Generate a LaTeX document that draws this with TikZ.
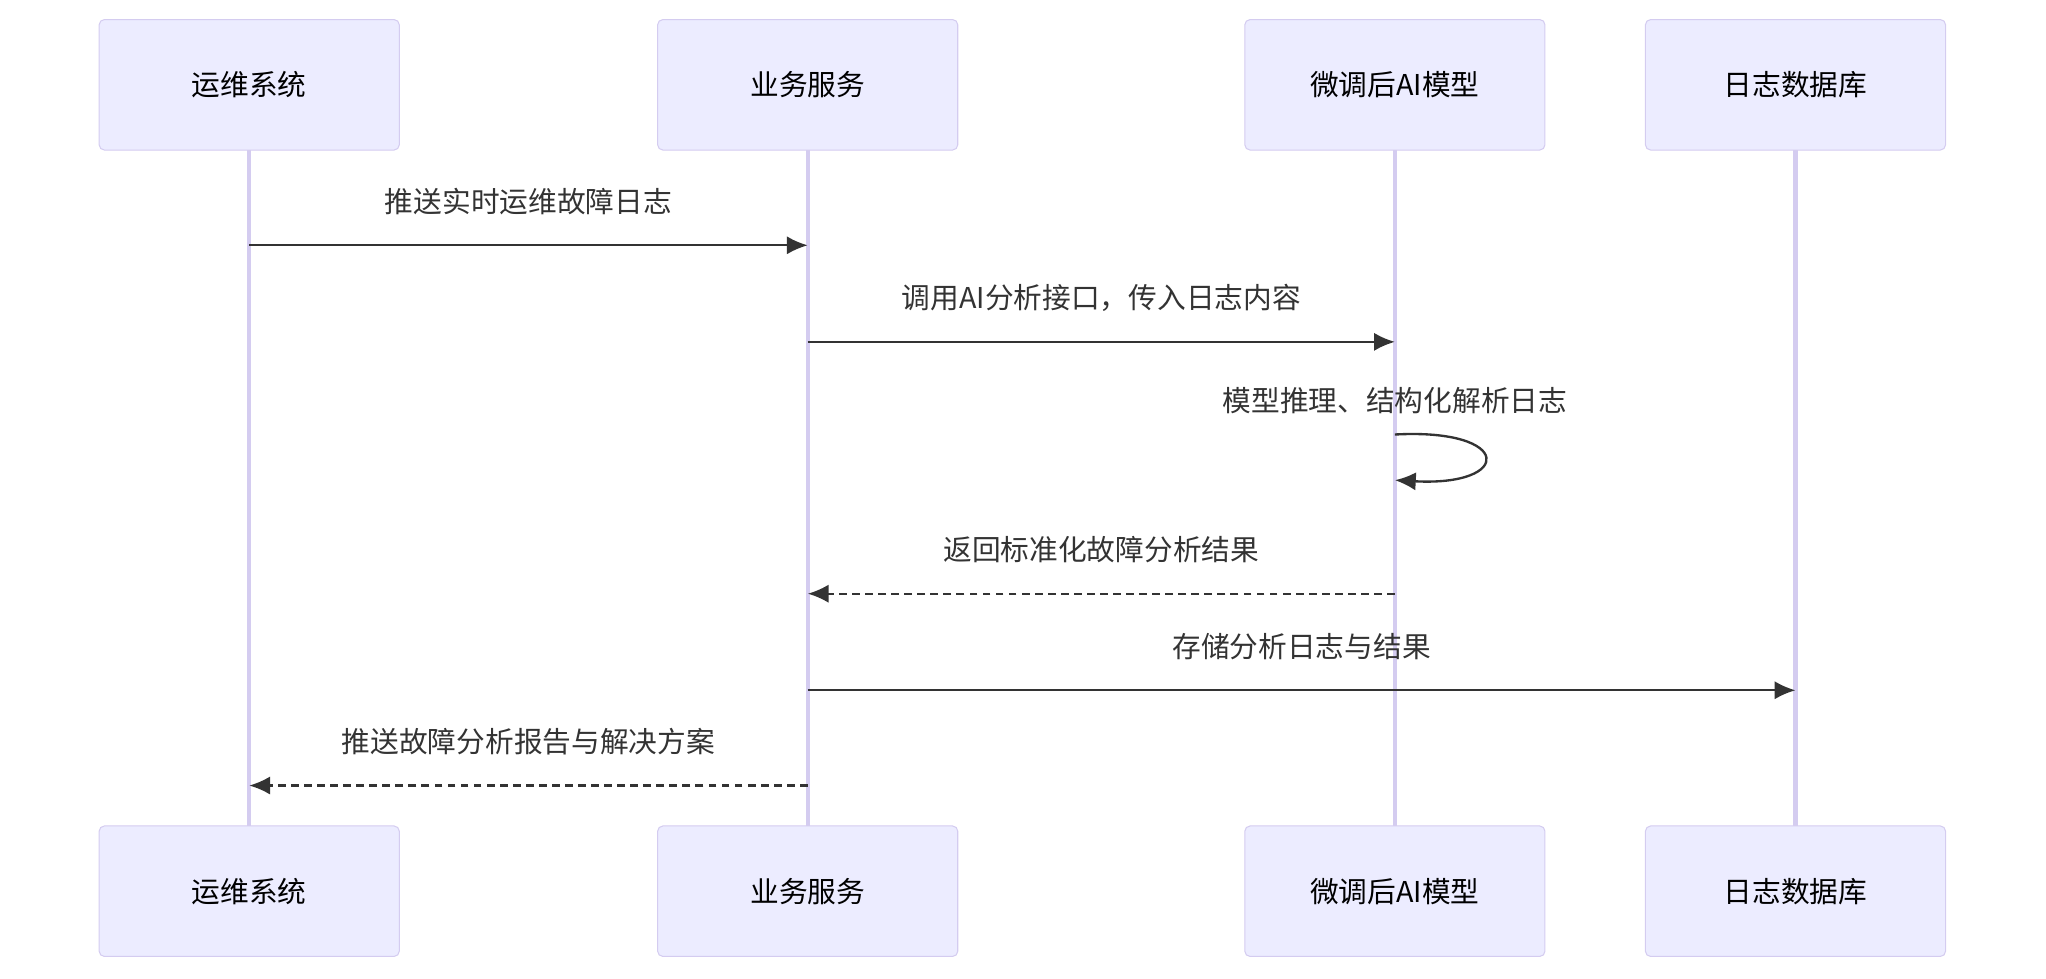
\documentclass[tikz,border=0pt]{standalone}
\usepackage{fontspec}
\setmainfont{Noto Sans CJK SC}
\usetikzlibrary{arrows.meta,positioning}
\definecolor{boxfill}{HTML}{ECECFF}
\definecolor{boxline}{HTML}{D4CCF0}
\definecolor{msgline}{HTML}{333333}
\tikzset{
  actor/.style={draw=boxline, fill=boxfill, rounded corners=2pt, minimum width=115pt, minimum height=50pt, font=\fontsize{11}{13}\selectfont, text=black},
  life/.style={draw=boxline, line width=1.6pt},
  msg/.style={draw=msgline, line width=0.9pt, -{Latex[length=8pt,width=7pt]}},
  reply/.style={msg, dash pattern=on 3pt off 2pt},
  lbl/.style={font=\fontsize{11}{13}\selectfont, text=msgline}
}
\begin{document}
\begin{tikzpicture}[x=0.5pt,y=0.5pt]
        \useasboundingbox (0,0) rectangle (1568,750);

        % Lifelines
        \foreach \n/\x in {ops/191,svc/619,ai/1069,db/1376} {
            \draw[life] (\x,635) -- (\x,115);
        }

        % Actors top and bottom
        \foreach \n/\x/\t in {ops/191/运维系统,svc/619/业务服务,ai/1069/微调后AI模型,db/1376/日志数据库} {
            \node[actor] (\n T) at (\x,685) {\t};
            \node[actor] (\n B) at (\x,67) {\t};
            \coordinate (\n1) at (\x,562);
            \coordinate (\n2) at (\x,488);
            \coordinate (\n4) at (\x,295);
            \coordinate (\n5) at (\x,221);
            \coordinate (\n6) at (\x,148);
        }

        % Messages
        \draw[msg] (ops1) -- node[lbl, above=8pt] {推送实时运维故障日志} (svc1);
        \draw[msg] (svc2) -- node[lbl, above=8pt] {调用AI分析接口，传入日志内容} (ai2);
        \coordinate (selfA) at (1069,417);
        \coordinate (selfB) at (1069,382);
        \node[lbl] (selfL) at (1069,443) {模型推理、结构化解析日志};
        \draw[msg] (selfA) .. controls (1160,422) and (1160,377) .. (selfB);
        \draw[reply] (ai4) -- node[lbl, above=8pt] {返回标准化故障分析结果} (svc4);
        \draw[msg] (svc5) -- node[lbl, above=8pt] {存储分析日志与结果} (db5);
        \draw[reply] (svc6) -- node[lbl, above=8pt] {推送故障分析报告与解决方案} (ops6);
\end{tikzpicture}
\end{document}
